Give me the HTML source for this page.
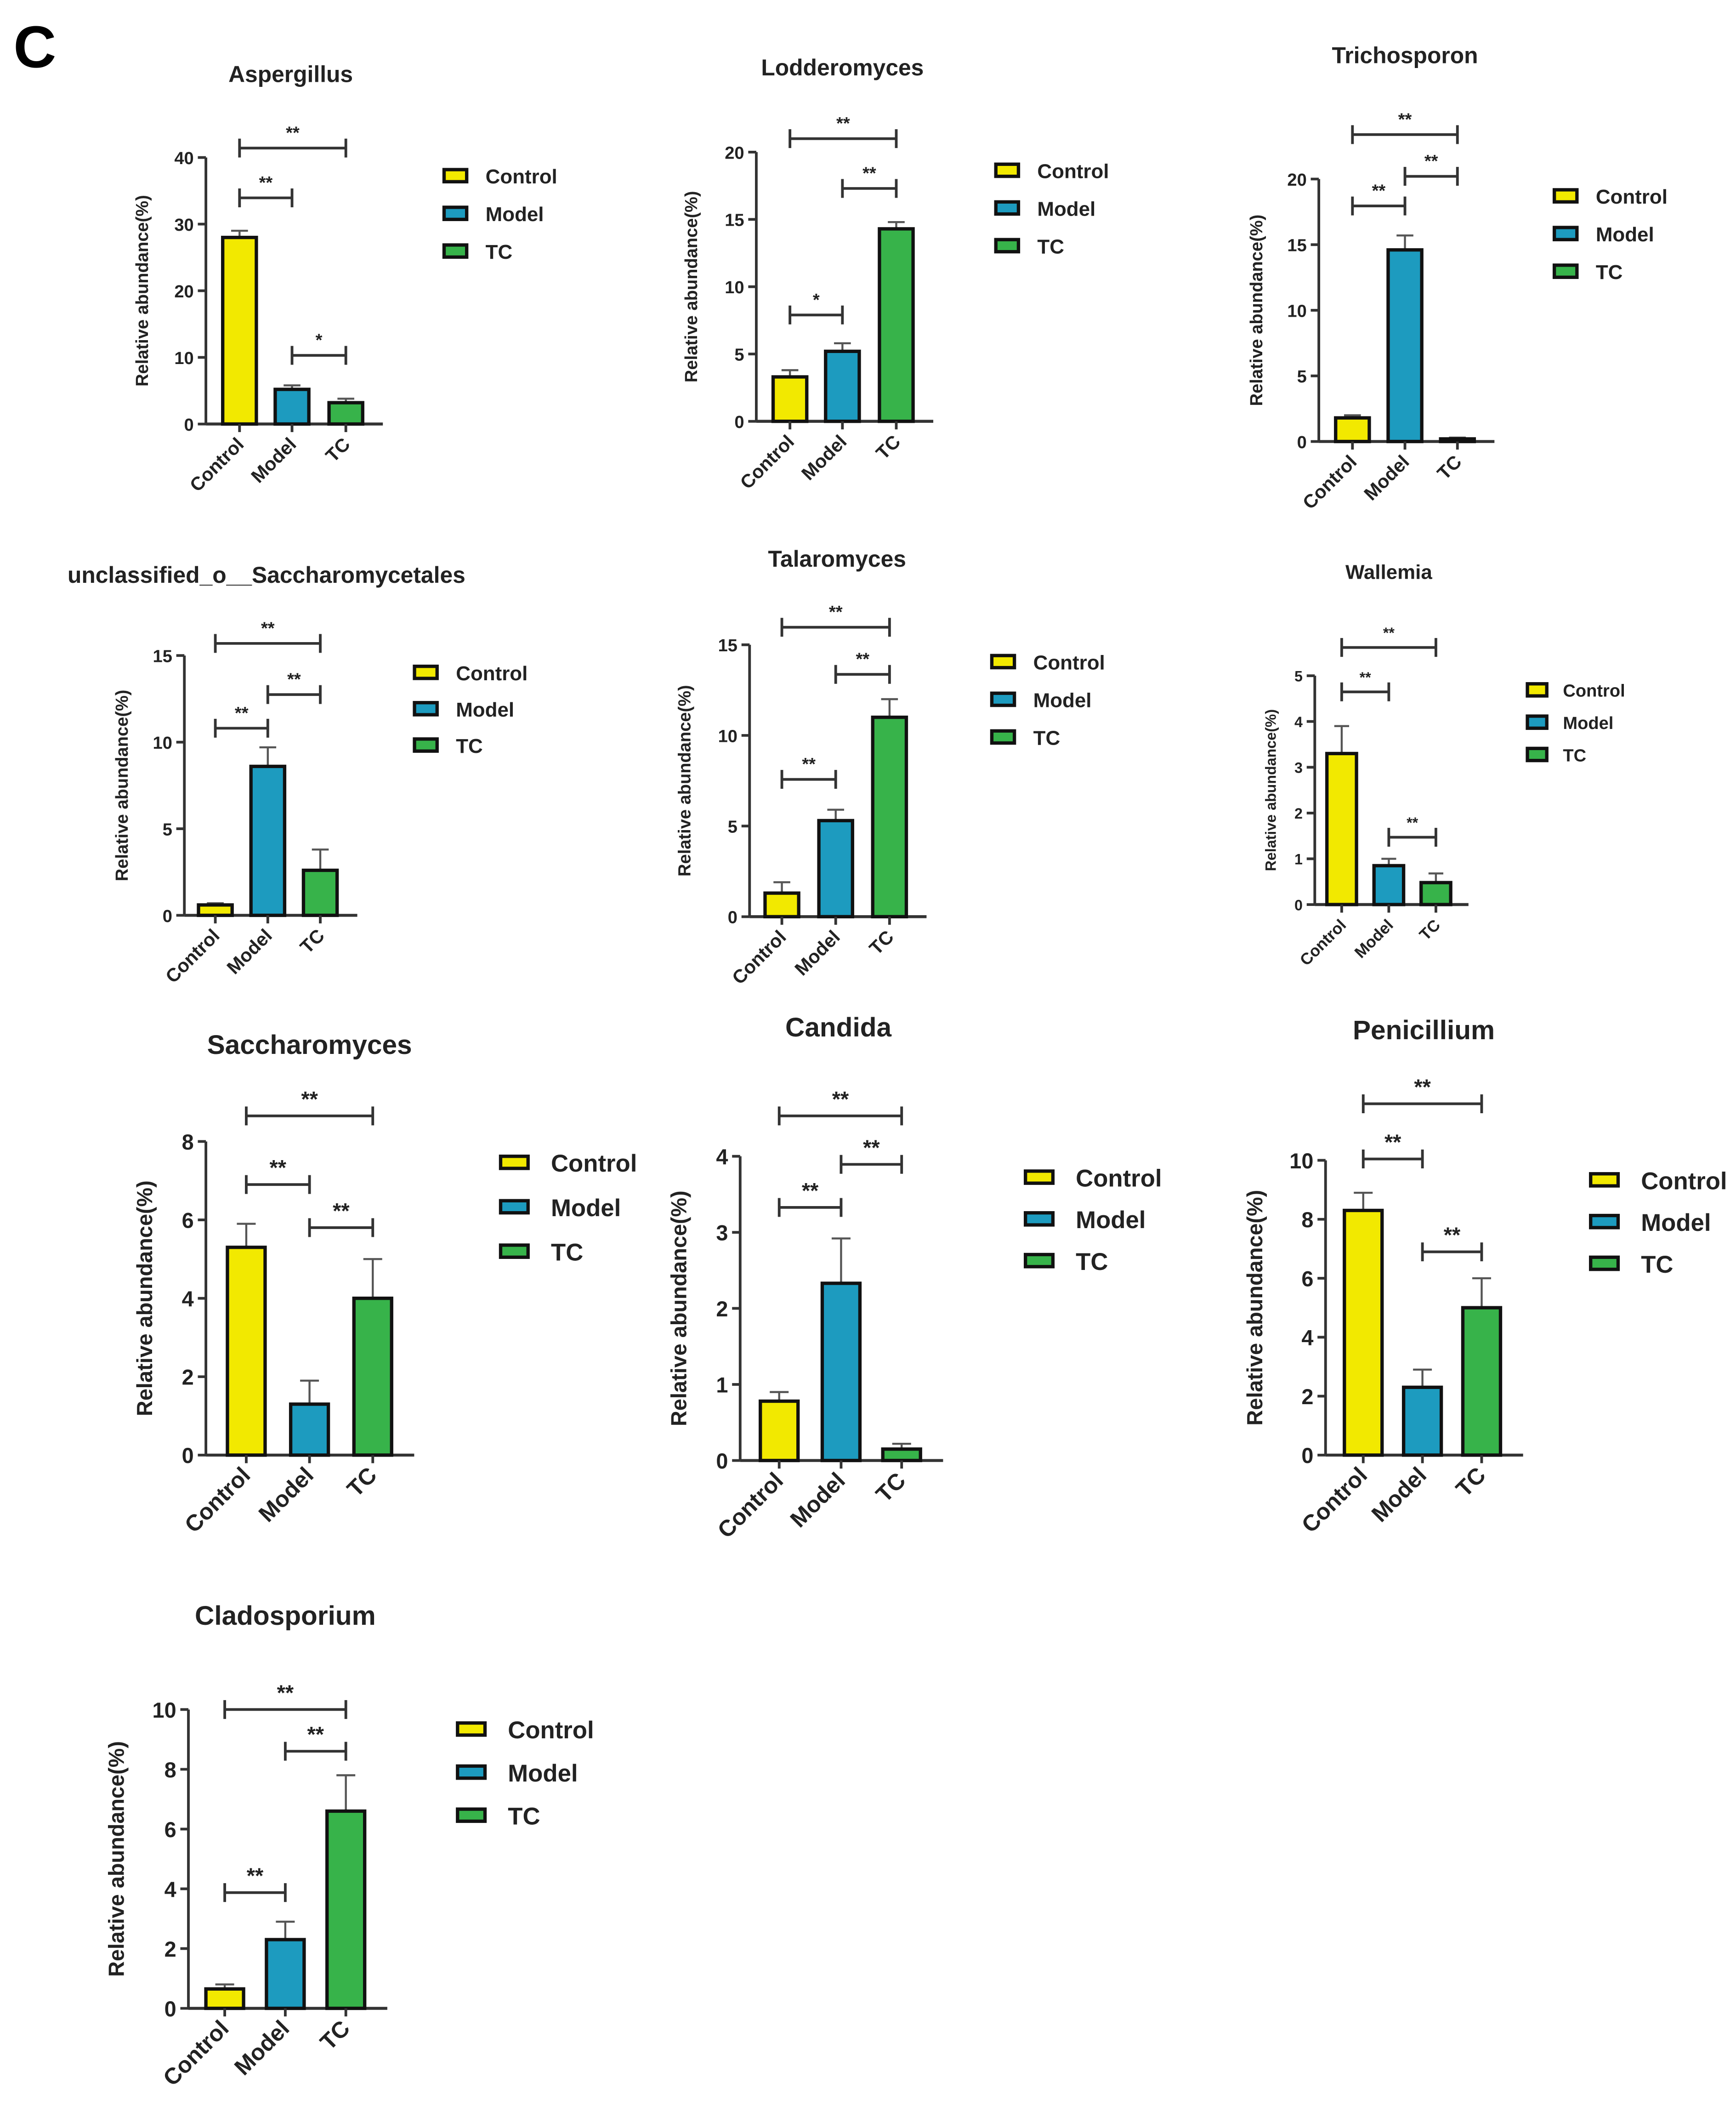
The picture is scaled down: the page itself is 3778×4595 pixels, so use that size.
<!DOCTYPE html>
<html><head><meta charset="utf-8"><style>
html,body{margin:0;padding:0;background:#fff}
svg{display:block}
text{font-family:"Liberation Sans",Arial,sans-serif;font-weight:bold;fill:#222}
</style></head><body>
<svg id="fig" width="3778" height="4595" viewBox="0 0 1290 1569" preserveAspectRatio="none" xmlns="http://www.w3.org/2000/svg">
<rect width="1300" height="1581" fill="#fff"/>
<text x="10" y="50" font-size="44" style="fill:#000">C</text>
</svg>
<script>
const groups = ["Control","Model","TC"];
const colors = ["#f2e900","#1d9bbf","#37b34a"];
const titles = ["Aspergillus","Lodderomyces","Trichosporon","unclassified_o__Saccharomycetales","Talaromyces","Wallemia","Saccharomyces","Candida","Penicillium","Cladosporium"];
const means = [[28,5.2,3.2],[3.3,5.2,14.3],[1.8,14.6,0.2],[0.6,8.6,2.6],[1.3,5.3,11],[3.3,0.85,0.48],[5.3,1.3,4.0],[0.78,2.33,0.15],[8.3,2.3,5.0],[0.65,2.3,6.6]];
const errs = [[1,0.6,0.6],[0.5,0.6,0.5],[0.2,1.1,0.1],[0.1,1.1,1.2],[0.6,0.6,1],[0.6,0.15,0.2],[0.6,0.6,1.0],[0.12,0.59,0.07],[0.6,0.6,1.0],[0.15,0.6,1.2]];
const yMax = [40,20,20,15,15,5,8,4,10,10];
const yStep = [10,5,5,5,5,1,2,1,2,2];
const sigLabels = [["**","*","**"],["*","**","**"],["**","**","**"],["**","**","**"],["**","**","**"],["**","**","**"],["**","**","**"],["**","**","**"],["**","**","**"],["**","**","**"]];
const layout = [
 [153,117,315,[178,217,257],25,216,61,330,131,28,14,[147,264,110],110],
 [562,113,313,[587,626,666],25,626,56,740,127,28,14,[234,140,103],518],
 [980,133,328,[1005,1044,1083],25,1044,47,1155,146,28,14,[153,131,100],938],
 [137,487,680,[160,199,238],25,198,433,308,500,27,14,[541,516,478],95],
 [557,479,681,[581,621,661],25,622,421,737,492,28,14,[579,501,466],513],
 [977,502,672,[997,1032,1067],22,1032,430,1135,513,24,12,[514,622,481],948],
 [153,848,1081,[183,230,277],28,230,783,372,864,33,17,[880,912,829],113],
 [550,859,1085,[579,625,670],28,623,770,762,875,31,17,[897,865,829],510],
 [985,862,1081,[1013,1057,1101],28,1058,772,1182,877,31,17,[861,930,820],938],
 [140,1270,1492,[167,212,257],28,212,1207,340,1285,32,17,[1406,1301,1270],92]
];
const NS="http://www.w3.org/2000/svg";
const svg=document.getElementById('fig');
function mk(tag,attrs,parent){const e=document.createElementNS(NS,tag);for(const k in attrs)e.setAttribute(k,attrs[k]);(parent||svg).appendChild(e);return e;}
titles.forEach((t,i)=>{
 const [ax,top,base,cx,bw,tx,ty,lx,ly,ldy,fs,sig,ylx]=layout[i];
 const g=mk('g',{});
 
 
 const y=v=>base-(v/yMax[i])*(base-top);
 const tt=mk('text',{x:tx,y:ty,'font-size':fs+3,'text-anchor':'middle'},g);tt.textContent=t;
 
 
 const ya=mk('line',{x1:ax,y1:top,x2:ax,y2:base,stroke:'#333','stroke-width':2},g);
 
 
 const xa=mk('line',{x1:ax,y1:base,x2:cx[2]+bw*1.1,y2:base,stroke:'#333','stroke-width':2.2},g);
 
 
 for(let v=0;v<=yMax[i]+1e-9;v+=yStep[i]){
  mk('line',{x1:ax-6,y1:y(v),x2:ax,y2:y(v),stroke:'#333','stroke-width':2},g);
  const tl=mk('text',{x:ax-9,y:y(v)+fs*0.35,'font-size':fs-1,'text-anchor':'end'},g);tl.textContent=String(+v.toFixed(2));
  
  
 }
 const yl=mk('text',{x:ylx,y:(top+base)/2,'font-size':fs-1,'text-anchor':'middle',transform:`rotate(-90 ${ylx} ${(top+base)/2})`},g);
 yl.textContent='Relative abundance(%)';
 
 
 groups.forEach((gr,j)=>{
  const m=means[i][j],e=errs[i][j];
  const ey=y(m+e);
  mk('line',{x1:cx[j],y1:y(m),x2:cx[j],y2:ey,stroke:'#555','stroke-width':1.5},g);
  mk('line',{x1:cx[j]-bw*0.25,y1:ey,x2:cx[j]+bw*0.25,y2:ey,stroke:'#555','stroke-width':1.5},g);
  const b=mk('rect',{x:cx[j]-bw/2,y:y(m),width:bw,height:base-y(m),fill:colors[j],stroke:'#111','stroke-width':2.5},g);
  
  
  mk('line',{x1:cx[j],y1:base,x2:cx[j],y2:base+6,stroke:'#333','stroke-width':2},g);
  const xl=mk('text',{x:cx[j]+4,y:base+16,'font-size':fs,'text-anchor':'end',transform:`rotate(-45 ${cx[j]+4} ${base+16})`},g);
  xl.textContent=gr;
  
  
  const ry=ly+j*ldy;
  const lr=mk('rect',{x:lx,y:ry-5,width:fs*1.2,height:9,fill:colors[j],stroke:'#111','stroke-width':2.5},g);
  
  
  const lt=mk('text',{x:lx+fs*2.2,y:ry+fs*0.38,'font-size':fs+1},g);lt.textContent=gr;
  
  
 });
 const pairs=[[0,1],[1,2],[0,2]];
 pairs.forEach((p,k)=>{
  const sy=sig[k],x1=cx[p[0]],x2=cx[p[1]];
  const bk=mk('path',{d:`M${x1} ${sy-7}V${sy+7}M${x1} ${sy}H${x2}M${x2} ${sy-7}V${sy+7}`,stroke:'#333','stroke-width':2,fill:'none'},g);
  
  
  const st=mk('text',{x:(x1+x2)/2,y:sy-7,'font-size':fs-1,'text-anchor':'middle'},g);st.textContent=sigLabels[i][k];
  
  
 });
});
</script>
</body></html>
